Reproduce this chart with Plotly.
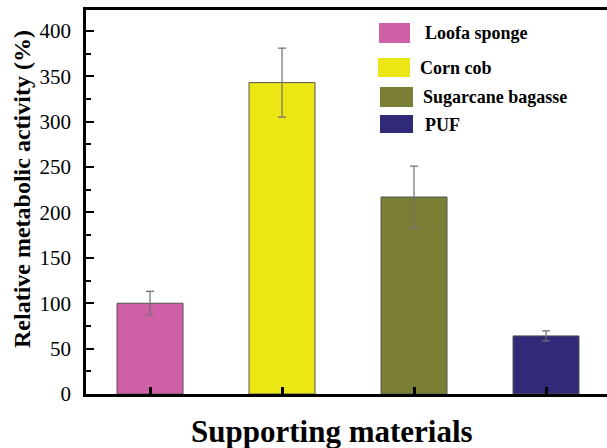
import plotly.graph_objects as go

categories = ["Loofa sponge", "Corn cob", "Sugarcane bagasse", "PUF"]
values = [100, 343, 217, 64]
errors = [13, 38, 34, 5.5]
colors = ["#D060A6", "#EBE614", "#7A7F35", "#302A78"]
y_ticks = [0, 50, 100, 150, 200, 250, 300, 350, 400]

W, H = 607, 448
L, R, T, B = 86, 0, 10, 54

fig = go.Figure()
fig.add_trace(go.Bar(
    x=categories, y=values,
    width=0.5,
    marker=dict(color=colors, line=dict(color="#555555", width=1)),
    error_y=dict(type="data", array=errors, visible=True,
                 color="#707070", thickness=1.2, width=4),
    showlegend=False,
))

serif = "Liberation Serif, Times New Roman, serif"

def px_x(x):
    return (x - L) / (W - L - R)

def px_y(y):
    return 1 - (y - T) / (H - T - B)

legend_boxes = [(379, 410, 23, 43), (378, 410, 58, 77), (380, 413, 87, 107), (380, 413, 115, 133)]
legend_text = [(423, 33), (418, 68), (421, 97), (423, 125)]
shapes = []
annotations = []
for i, name in enumerate(categories):
    x0, x1, y0, y1 = legend_boxes[i]
    shapes.append(dict(type="rect", xref="paper", yref="paper",
                       x0=px_x(x0), x1=px_x(x1), y0=px_y(y1), y1=px_y(y0),
                       fillcolor=colors[i], line=dict(width=0)))
    tx, ty = legend_text[i]
    annotations.append(dict(xref="paper", yref="paper", x=px_x(tx), y=px_y(ty),
                            text="<b>%s</b>" % name, showarrow=False,
                            xanchor="left", yanchor="middle",
                            font=dict(family=serif, size=18, color="black")))

annotations.append(dict(xref="paper", yref="paper", x=px_x(332), y=px_y(431),
                        text="<b>Supporting materials</b>", showarrow=False,
                        xanchor="center", yanchor="middle",
                        font=dict(family=serif, size=31, color="black")))

annotations.append(dict(xref="paper", yref="paper", x=px_x(22), y=px_y(189),
                        text="<b>Relative metabolic activity (%)</b>", showarrow=False,
                        textangle=-90, xanchor="center", yanchor="middle",
                        font=dict(family=serif, size=24, color="black")))

fig.update_layout(
    width=W, height=H,
    margin=dict(l=L, r=R, t=T, b=B, pad=0, autoexpand=False),
    plot_bgcolor="white", paper_bgcolor="white",
    bargap=0.5,
    shapes=shapes,
    annotations=annotations,
    xaxis=dict(
        range=[-0.485, 3.462], automargin=False,
        showline=True, linecolor="black", linewidth=2.5, mirror=True,
        ticks="inside", ticklen=7, tickwidth=2.5, tickcolor="black",
        showticklabels=False, showgrid=False, zeroline=False,
    ),
    yaxis=dict(
        range=[0, 423], automargin=False,
        tickvals=y_ticks,
        showline=True, linecolor="black", linewidth=2.5, mirror=False,
        ticks="inside", ticklen=8, tickwidth=2, tickcolor="black",
        minor=dict(ticks="inside", ticklen=5, tickwidth=2, tickcolor="black", dtick=25, showgrid=False),
        tickfont=dict(family=serif, size=21, color="black"),
        ticklabelstandoff=8,
        showgrid=False, zeroline=False,
    ),
)

fig.write_html("out.html", config={"displayModeBar": False},
               post_script="document.body.style.margin='0';document.body.style.overflow='hidden';")
